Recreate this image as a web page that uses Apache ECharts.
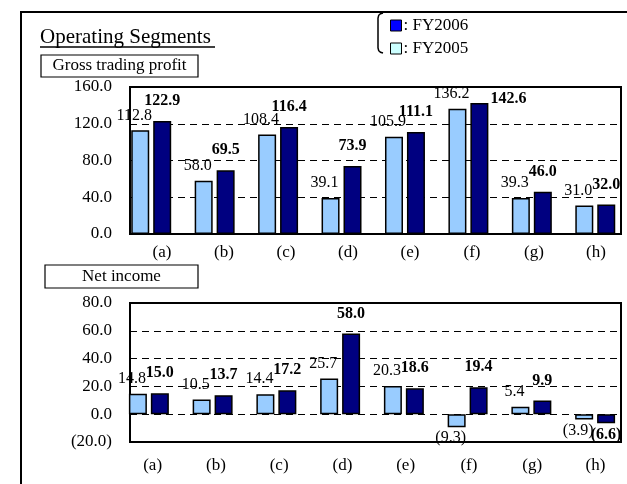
<!DOCTYPE html>
<html>
<head>
<meta charset="utf-8">
<script src="https://cdn.jsdelivr.net/npm/echarts@6/dist/echarts.min.js"></script>
<style>
  html, body { margin: 0; padding: 0; background: #fff; }
  #chart { width: 627px; height: 484px; }
</style>
</head>
<body>
<div id="chart"></div>
<script>
// ---- data ----
const categories = ['(a)', '(b)', '(c)', '(d)', '(e)', '(f)', '(g)', '(h)'];
const gtpFY2005 = [112.8, 58.0, 108.4, 39.1, 105.9, 136.2, 39.3, 31.0];
const gtpFY2006 = [122.9, 69.5, 116.4, 73.9, 111.1, 142.6, 46.0, 32.0];
const niFY2005 = [14.8, 10.5, 14.4, 25.7, 20.3, -9.3, 5.4, -3.9];
const niFY2006 = [15.0, 13.7, 17.2, 58.0, 18.6, 19.4, 9.9, -6.6];
const gtpAxis = { min: 0, max: 160, interval: 40 };
const niAxis = { min: -20, max: 80, interval: 20 };
const seriesNames = ['FY2005', 'FY2006'];

const FONT = '"Liberation Serif", "Times New Roman", serif';
const LIGHT = '#99CCFF';
const DARK = '#000080';

function fmt(v) {
  v = Number(v);
  return v < 0 ? '(' + (-v).toFixed(1) + ')' : v.toFixed(1);
}

// layout constants (styling only)
const TOP = { top: 87, height: 147 };
const BOT = { top: 303, height: 139 };

function buildData(values, axis, layout, isDark) {
  const pxPerUnit = layout.height / (axis.max - axis.min);
  return values.map(v => {
    if (v < 0) {
      return { value: v, label: { position: 'bottom', distance: 3 } };
    }
    const room = (axis.max - v) * pxPerUnit;
    if (isDark && room < 30) {
      return { value: v, label: { position: ['100%', 0], offset: [2, -12], distance: 0 } };
    }
    return v;
  });
}

const labelBase = {
  show: true,
  color: '#000',
  fontFamily: FONT,
  fontSize: 16,
  formatter: p => fmt(p.value)
};

function barSeries(name, values, axis, layout, xi, isDark) {
  return {
    name: name,
    type: 'bar',
    xAxisIndex: xi,
    yAxisIndex: xi,
    barWidth: 18,
    barGap: '22%',
    data: buildData(values, axis, layout, isDark),
    itemStyle: { color: isDark ? DARK : LIGHT, borderColor: '#000', borderWidth: 1.5 },
    label: Object.assign({}, labelBase, isDark
      ? { position: 'top', distance: 12, fontWeight: 'bold' }
      : { position: 'top', distance: 7, offset: [-6, 0] }),
    emphasis: { disabled: true },
    z: 3
  };
}

function hiddenCat(gi) {
  return { type: 'category', gridIndex: gi, data: categories, show: false };
}
function labelCat(gi, margin) {
  return {
    type: 'category', gridIndex: gi, data: categories,
    axisLine: { show: false }, axisTick: { show: false }, splitLine: { show: false },
    axisLabel: { margin: margin, color: '#000', fontFamily: FONT, fontSize: 17 }
  };
}
function hiddenVal(gi, axis) {
  return { type: 'value', gridIndex: gi, min: axis.min, max: axis.max, interval: axis.interval, show: false };
}
function frameVal(gi, axis) {
  return {
    type: 'value', gridIndex: gi, min: axis.min, max: axis.max, interval: axis.interval,
    axisLine: { show: false }, axisTick: { show: false },
    axisLabel: { margin: 18, color: '#000', fontFamily: FONT, fontSize: 17, formatter: v => fmt(v) },
    splitLine: { show: true, lineStyle: { color: '#000', width: 1, type: [7, 5] } }
  };
}

const frameGrid = { show: true, borderColor: '#000', borderWidth: 2, backgroundColor: 'transparent' };

const option = {
  animation: false,
  backgroundColor: '#fff',
  textStyle: { fontFamily: FONT },
  legend: {
    orient: 'vertical',
    left: 385, top: 12,
    itemWidth: 11, itemHeight: 11, itemGap: 6,
    icon: 'rect',
    selectedMode: false,
    formatter: ': {name}',
    textStyle: { color: '#000', fontFamily: FONT, fontSize: 17, lineHeight: 17, padding: [0, 0, 0, -3] },
    data: [
      { name: 'FY2006', itemStyle: { color: '#0000FF', borderColor: '#000', borderWidth: 1 } },
      { name: 'FY2005', itemStyle: { color: '#CCFFFF', borderColor: '#000', borderWidth: 1 } }
    ]
  },
  grid: [
    { left: 119.5, top: TOP.top, width: 512, height: TOP.height },
    Object.assign({ left: 130, top: TOP.top, width: 491, height: TOP.height }, frameGrid),
    { left: 131, top: TOP.top, width: 501, height: TOP.height },
    { left: 117, top: BOT.top, width: 512, height: BOT.height },
    Object.assign({ left: 130, top: BOT.top, width: 491, height: BOT.height }, frameGrid),
    { left: 121, top: BOT.top, width: 512, height: BOT.height }
  ],
  xAxis: [
    hiddenCat(0), hiddenCat(1), labelCat(2, 10),
    hiddenCat(3), hiddenCat(4), labelCat(5, 15)
  ],
  yAxis: [
    hiddenVal(0, gtpAxis), frameVal(1, gtpAxis), hiddenVal(2, gtpAxis),
    hiddenVal(3, niAxis), frameVal(4, niAxis), hiddenVal(5, niAxis)
  ],
  series: [
    barSeries(seriesNames[0], gtpFY2005, gtpAxis, TOP, 0, false),
    barSeries(seriesNames[1], gtpFY2006, gtpAxis, TOP, 0, true),
    barSeries(seriesNames[0], niFY2005, niAxis, BOT, 3, false),
    barSeries(seriesNames[1], niFY2006, niAxis, BOT, 3, true)
  ],
  graphic: [
    { type: 'polyline', z: 10, shape: { points: [[21, 484], [21, 12], [627, 12]] },
      style: { stroke: '#000', lineWidth: 2, fill: null } },
    { type: 'text', z: 10, x: 40, y: 37,
      style: { text: 'Operating Segments', font: '21px ' + FONT, fill: '#000', verticalAlign: 'middle', align: 'left' } },
    { type: 'line', z: 10, shape: { x1: 40, y1: 47, x2: 215, y2: 47 }, style: { stroke: '#000', lineWidth: 1.5 } },
    { type: 'rect', z: 10, shape: { x: 41, y: 55, width: 157, height: 22 },
      style: { stroke: '#000', lineWidth: 1.2, fill: 'transparent' } },
    { type: 'text', z: 10, x: 119.5, y: 66,
      style: { text: 'Gross trading profit', font: '17px ' + FONT, fill: '#000', verticalAlign: 'middle', align: 'center' } },
    { type: 'rect', z: 10, shape: { x: 45, y: 265, width: 153, height: 23 },
      style: { stroke: '#000', lineWidth: 1.2, fill: 'transparent' } },
    { type: 'text', z: 10, x: 121.5, y: 276.5,
      style: { text: 'Net income', font: '17px ' + FONT, fill: '#000', verticalAlign: 'middle', align: 'center' } },
    { type: 'polyline', z: 10,
      shape: { points: [[383, 13], [380.5, 13.7], [378.7, 15.3], [378, 18], [378, 48], [378.7, 50.7], [380.5, 52.3], [383, 53]] },
      style: { stroke: '#000', lineWidth: 1.5, fill: null } }
  ]
};

const chart = echarts.init(document.getElementById('chart'), null, { renderer: 'canvas' });
chart.setOption(option);
</script>
</body>
</html>
